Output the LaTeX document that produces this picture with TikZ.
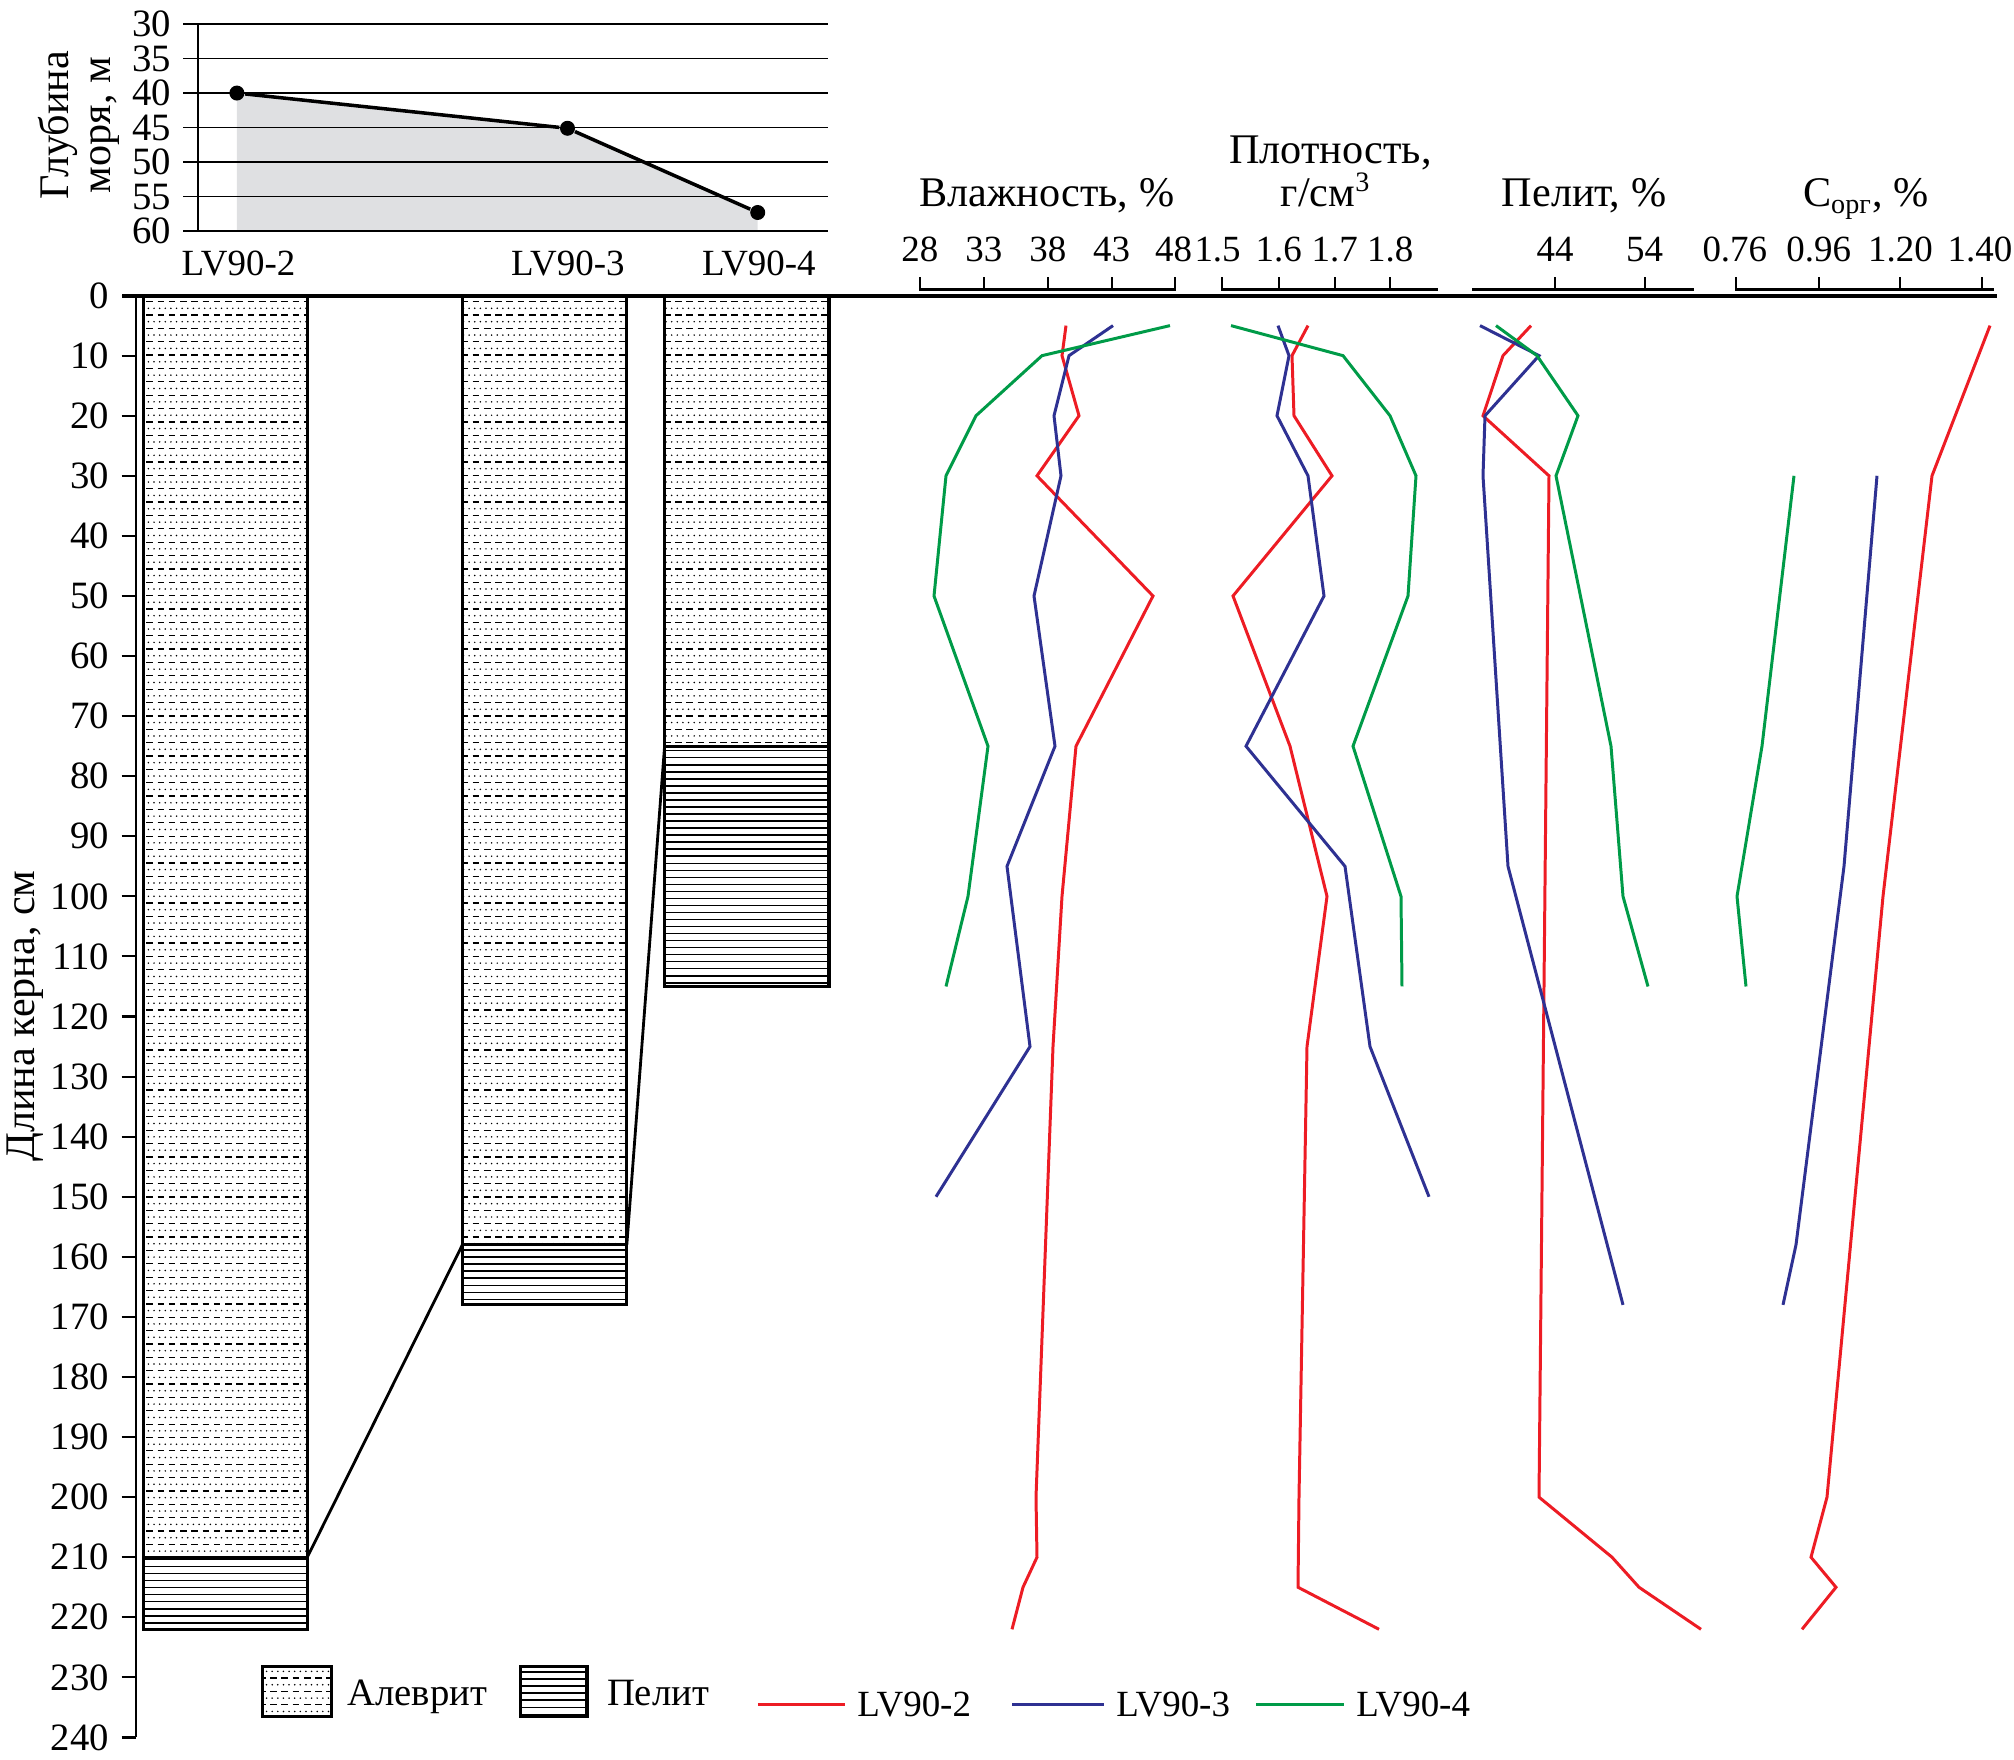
\documentclass[tikz,border=0pt]{standalone}
\usepackage{fontspec}
\setmainfont{Liberation Serif}
\usetikzlibrary{patterns}

\definecolor{lvred}{RGB}{237,28,36}
\definecolor{lvblue}{RGB}{46,49,146}
\definecolor{lvgreen}{RGB}{0,155,72}
\definecolor{seafill}{RGB}{223,224,226}

\pgfdeclarepatternformonly{alevrit}{\pgfpoint{-0.1pt}{-0.1pt}}{\pgfpoint{3.3pt}{3.9pt}}{\pgfpoint{3.2pt}{3.8pt}}{%
  \pgfsetlinewidth{0.35pt}%
  \pgfpathmoveto{\pgfpoint{0pt}{0.5pt}}%
  \pgfpathlineto{\pgfpoint{1.9pt}{0.5pt}}%
  \pgfusepath{stroke}%
  \pgfpathcircle{\pgfpoint{0.6pt}{2.4pt}}{0.24pt}%
  \pgfpathcircle{\pgfpoint{2.2pt}{2.4pt}}{0.24pt}%
  \pgfusepath{fill}%
}
\pgfdeclarepatternformonly{pelit}{\pgfpoint{-0.1pt}{-0.1pt}}{\pgfpoint{1.1pt}{2.1pt}}{\pgfpoint{1pt}{2pt}}{%
  \pgfsetlinewidth{0.42pt}%
  \pgfpathmoveto{\pgfpoint{-0.1pt}{1pt}}%
  \pgfpathlineto{\pgfpoint{1.1pt}{1pt}}%
  \pgfusepath{stroke}%
}

\begin{document}
\begin{tikzpicture}[x=0.01cm,y=-0.01cm,
    every node/.style={font=\fontsize{11}{13}\selectfont},
    ttl/.style={font=\fontsize{12}{12}\selectfont},
    num/.style={font=\fontsize{10.5}{12}\selectfont},
    grid/.style={line width=0.4pt},
    axis/.style={line width=0.6pt},
    core/.style={draw,line width=0.9pt},
    dot/.style={circle,fill,inner sep=0pt,minimum size=0.15cm},
    lv2/.style={lvred,line width=0.85pt},
    lv3/.style={lvblue,line width=0.85pt},
    lv4/.style={lvgreen,line width=0.85pt}]

  \useasboundingbox (0,0) rectangle (2014,1760);

  % sea depth
  \begin{scope}[yshift=1.83cm,y=-0.069cm]
    \fill[seafill] (236.9,40) -- (567.5,45.1) -- (757.7,57.3) -- (757.7,60) -- (236.9,60) -- cycle;
    \foreach \m in {30,35,...,60}
      \draw[grid] (183.2,\m) -- (827.6,\m) node[pos=0,left] (m\m) {\m};
    \draw[axis] (197.8,30) -- (197.8,60);
    \node[dot] (p2) at (236.9,40) {};
    \node[dot] (p3) at (567.5,45.1) {};
    \node[dot] (p4) at (757.7,57.3) {};
    \draw[line width=1pt] (p2) -- (p3) -- (p4);
  \end{scope}

  \node[ttl,rotate=90,align=center] (seat) at (79,125) {Глубина\\моря, м};
  \node[num] (s2) at (238.5,263.3) {LV90-2};
  \node[num] (s3) at (567.8,263.3) {LV90-3};
  \node[num] (s4) at (758.8,263.3) {LV90-4};

  % scales
  \draw[axis] (919.9,277) -- (919.9,289.5) -- (1175,289.5) -- (1175,277);
  \draw[axis] (1221.8,277) -- (1221.8,289.5) -- (1437.8,289.5);
  \draw[axis] (1472,289.5) -- (1694.3,289.5);
  \draw[axis] (1736.2,277) -- (1736.2,289.5) -- (1994.1,289.5);
  \foreach \x in {983.8,1047.8,1111.7,1278.7,1334.8,1390.2,1555,1644.6,1818.7,1900.4,1982}
    \draw[axis] (\x,277) -- (\x,289.5);
  \foreach \x/\t [count=\i] in {919.9/28,983.8/33,1047.8/38,1111.7/43,1173.5/48,
      1217.6/1.5,1278.7/1.6,1334.8/1.7,1390.2/1.8,1555/44,1644.6/54,
      1734.8/0.76,1818.7/0.96,1900.4/1.20,1980/1.40}
    \node[num,anchor=base] (v\i) at (\x,261.7) {\t};

  \node[ttl,anchor=base] (tw) at (1047,206.7) {Влажность, \%};
  \node[ttl,anchor=base] (tp) at (1330.5,163.3) {Плотность,};
  \node[ttl,anchor=base] (tu) at (1326,206.7) {г/см\textsuperscript{3}};
  \node[ttl,anchor=base] (tl) at (1584,206.7) {Пелит, \%};
  \node[ttl,anchor=base] (tc) at (1866,206.7) {С\textsubscript{орг}, \%};

  \node[ttl,rotate=90] (dt) at (25,1016) {Длина керна, см};

  % cores
  \begin{scope}[yshift=-2.954cm,y=-0.06005cm]
    \draw[line width=1.1pt] (122,0) -- (1997,0);
    \draw[axis] (135.7,0) -- (135.7,240);
    \foreach \d in {0,10,...,240}
      \draw[axis] (121.7,\d) -- (135.7,\d) node[pos=0,left] (d\d) {\d};

    \draw[core,pattern=alevrit] (143.3,0) rectangle (307.3,210);
    \draw[core,pattern=pelit] (143.3,210) rectangle (307.3,222);
    \draw[core,pattern=alevrit] (462.4,0) rectangle (626.8,158);
    \draw[core,pattern=pelit] (462.4,158) rectangle (626.8,168);
    \draw[core,pattern=alevrit] (664.6,0) rectangle (829,75);
    \draw[core,pattern=pelit] (664.6,75) rectangle (829,115);

    \coordinate (k2) at (307.3,210);
    \coordinate (k3l) at (462.4,158);
    \coordinate (k3r) at (626.8,158);
    \coordinate (k4) at (664.6,75);
    \draw[line width=0.8pt] (k2) -- (k3l);
    \draw[line width=0.8pt] (k3r) -- (k4);

    \draw[lv2] plot coordinates {(1066,5) (1062,10) (1079,20) (1037,30) (1153,50) (1076,75)
      (1062,100) (1053,125) (1036,200) (1037,210) (1023,215) (1012,222)};
    \draw[lv3] plot coordinates {(1113,5) (1069,10) (1054,20) (1061,30) (1034,50) (1055,75)
      (1007,95) (1030,125) (936,150)};
    \draw[lv4] plot coordinates {(1170,5) (1042,10) (976,20) (946,30) (934,50) (988,75)
      (968,100) (946,115)};

    \draw[lv2] plot coordinates {(1308,5) (1292,10) (1294,20) (1332,30) (1233,50) (1290,75)
      (1327,100) (1307,125) (1299,200) (1298,215) (1379,222)};
    \draw[lv3] plot coordinates {(1278,5) (1289,10) (1277,20) (1308,30) (1324,50) (1246,75)
      (1345,95) (1370,125) (1429,150)};
    \draw[lv4] plot coordinates {(1231,5) (1343,10) (1390,20) (1416,30) (1408,50) (1353,75)
      (1401,100) (1402,115)};

    \draw[lv2] plot coordinates {(1531,5) (1503,10) (1483,20) (1549,30) (1539,200) (1612,210)
      (1639,215) (1701,222)};
    \draw[lv3] plot coordinates {(1480,5) (1539,10) (1485,20) (1483,30) (1508,95) (1623,168)};
    \draw[lv4] plot coordinates {(1496,5) (1537,10) (1578,20) (1556,30) (1611,75) (1623,100)
      (1648,115)};

    \draw[lv2] plot coordinates {(1990,5) (1932,30) (1883,100) (1827,200) (1811,210) (1836,215)
      (1802,222)};
    \draw[lv3] plot coordinates {(1877,30) (1844,95) (1796,158) (1783,168)};
    \draw[lv4] plot coordinates {(1794,30) (1762,75) (1737,100) (1746,115)};
  \end{scope}

  % legend
  \draw[core,pattern=alevrit] (262.7,1666.7) rectangle (331.7,1716.7);
  \node[anchor=base west,inner sep=0pt] (la) at (346.7,1705) {Алеврит};
  \draw[core,pattern=pelit] (520.2,1666.7) rectangle (587,1716.7);
  \node[anchor=base west,inner sep=0pt] (lp) at (606.3,1705) {Пелит};

  \coordinate (l2s) at (757.9,1704.5);
  \coordinate (l3s) at (1012,1704.5);
  \coordinate (l4s) at (1256.2,1704.5);
  \node[num,anchor=west] (l2) at (845,1704.5) {LV90-2};
  \node[num,anchor=west] (l3) at (1104,1704.5) {LV90-3};
  \node[num,anchor=west] (l4) at (1344,1704.5) {LV90-4};
  \draw[lv2] (l2s) -- (l2);
  \draw[lv3] (l3s) -- (l3);
  \draw[lv4] (l4s) -- (l4);

\end{tikzpicture}
\end{document}
